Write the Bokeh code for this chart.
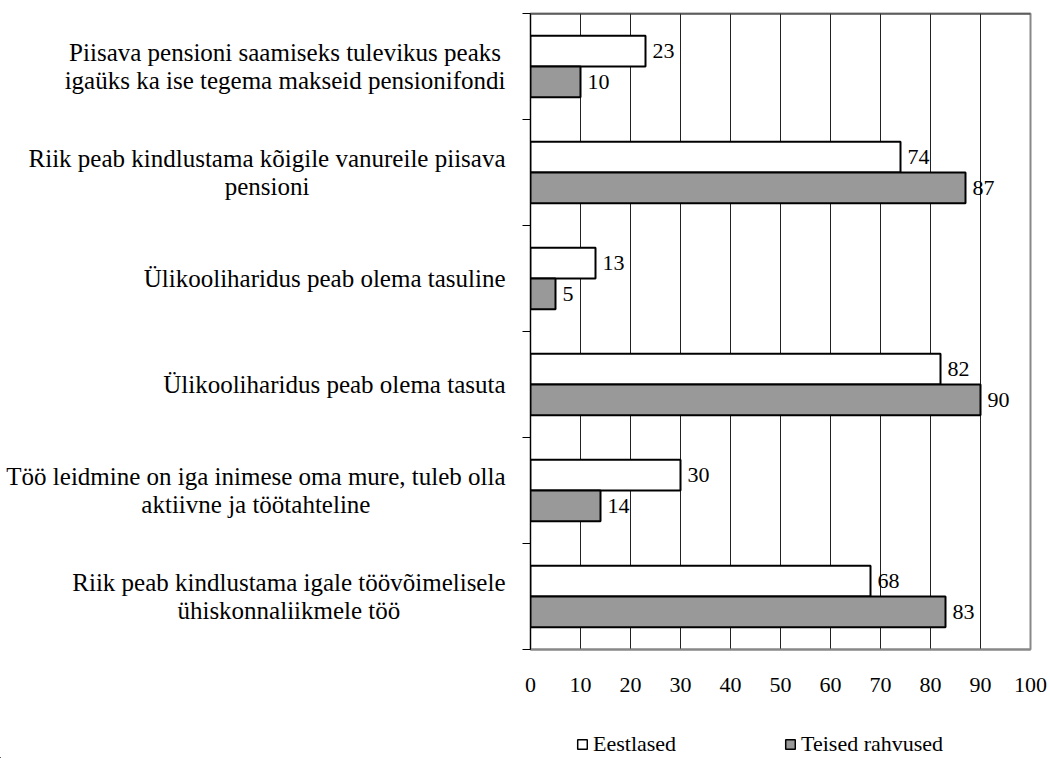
from bokeh.plotting import figure
from bokeh.models import FixedTicker, Legend, LegendItem, Span, ColumnDataSource, Range1d
from bokeh.layouts import row, column
from bokeh.embed import file_html
from bokeh.resources import INLINE
from bokeh.core.properties import value

categories = [
    "Piisava pensioni saamiseks tulevikus peaks\nigaüks ka ise tegema makseid pensionifondi",
    "Riik peab kindlustama kõigile vanureile piisava\npensioni",
    "Ülikooliharidus peab olema tasuline",
    "Ülikooliharidus peab olema tasuta",
    "Töö leidmine on iga inimese oma mure, tuleb olla\naktiivne ja töötahteline",
    "Riik peab kindlustama igale töövõimelisele\nühiskonnaliikmele töö",
]
eestlased = [23, 74, 13, 82, 30, 68]
teised = [10, 87, 5, 90, 14, 83]
series_names = ["Eestlased", "Teised rahvused"]
x_ticks = [0, 10, 20, 30, 40, 50, 60, 70, 80, 90, 100]

FONT = "Liberation Serif"
n = len(categories)
centers = [n - i - 0.5 for i in range(n)]
BAR_H = 0.29
y_e = [c + BAR_H / 2 for c in centers]
y_t = [c - BAR_H / 2 for c in centers]

TOP, FRAME_H, BOTTOM = 13, 636, 60
LEFT_W = 510

# ---------------- main chart ----------------
p = figure(width=540, height=TOP + FRAME_H + BOTTOM, x_range=(0, 100), y_range=(0, n),
           output_backend="svg", toolbar_location=None,
           min_border_left=20, min_border_right=20, min_border_top=TOP,
           min_border_bottom=BOTTOM)

src_e = ColumnDataSource(dict(y=y_e, right=eestlased, label=[str(v) for v in eestlased]))
src_t = ColumnDataSource(dict(y=y_t, right=teised, label=[str(v) for v in teised]))

p.hbar(y="y", right="right", left=0, height=BAR_H, source=src_e,
       fill_color="white", line_color="black", line_width=2)
p.hbar(y="y", right="right", left=0, height=BAR_H, source=src_t,
       fill_color="#999999", line_color="black", line_width=2)

for src in (src_e, src_t):
    p.text(x="right", y="y", text="label", source=src, x_offset=7,
           text_align="left", text_baseline="middle",
           text_font=value(FONT), text_font_size="22px", text_color="black")

p.xaxis.ticker = FixedTicker(ticks=x_ticks)
p.xaxis.major_tick_line_color = None
p.xaxis.minor_tick_line_color = None
p.xaxis.axis_line_color = "#888888"
p.xaxis.axis_line_width = 2
p.xaxis.major_label_text_font = FONT
p.xaxis.major_label_text_font_size = "22px"
p.xaxis.major_label_text_color = "black"
p.xaxis.major_label_standoff = 22

p.yaxis.ticker = FixedTicker(ticks=[], minor_ticks=list(range(n + 1)))
p.yaxis.major_tick_out = 0
p.yaxis.major_tick_in = 0
p.yaxis.minor_tick_out = 8
p.yaxis.minor_tick_in = 0
p.yaxis.minor_tick_line_color = "black"
p.yaxis.axis_line_color = "black"

p.xgrid.ticker = FixedTicker(ticks=x_ticks)
p.xgrid.grid_line_color = "#222222"
p.ygrid.visible = False

p.outline_line_color = "#888888"
p.outline_line_width = 2
p.add_layout(Span(location=n, dimension="width", line_color="#333333", line_width=2))

# ---------------- category labels (left) ----------------
lab = figure(width=LEFT_W, height=TOP + FRAME_H + BOTTOM, x_range=Range1d(0, LEFT_W),
             y_range=p.y_range, output_backend="svg", toolbar_location=None,
             x_axis_type=None, y_axis_type=None, min_border=0,
             min_border_top=TOP, min_border_bottom=BOTTOM)
lab.outline_line_color = None
lab.grid.visible = False
lab_src = ColumnDataSource(dict(x=[LEFT_W - 5] * n, y=centers, text=categories))
lab.text(x="x", y="y", text="text", source=lab_src, anchor="center_right",
         text_align="center", text_baseline="middle", text_line_height=1.05,
         text_font=value(FONT), text_font_size="25px", text_color="black")

# ---------------- legend row ----------------
# the legend swatches reuse the series' renderers' sources, placed out of view
leg = figure(width=LEFT_W + 540, height=49, x_range=(1000, 1001), y_range=(1000, 1001),
             output_backend="svg", toolbar_location=None,
             x_axis_type=None, y_axis_type=None, min_border=0)
leg.outline_line_color = None
leg.grid.visible = False
le = leg.hbar(y="y", right="right", left=0, height=BAR_H, source=src_e,
              fill_color="white", line_color="black", line_width=1.5)
lt = leg.hbar(y="y", right="right", left=0, height=BAR_H, source=src_t,
              fill_color="#999999", line_color="black", line_width=1.5)
legend = Legend(items=[LegendItem(label=series_names[0], renderers=[le]),
                       LegendItem(label=series_names[1], renderers=[lt])],
                orientation="horizontal", location=(576, 1),
                glyph_width=12, glyph_height=12, label_standoff=5, spacing=108,
                label_text_font=FONT, label_text_font_size="22px",
                label_text_color="black",
                padding=0, margin=0, border_line_alpha=0, background_fill_alpha=0)
leg.add_layout(legend, "center")

layout = column(row(lab, p), leg)
open("out.html", "w").write(file_html(layout, INLINE))
